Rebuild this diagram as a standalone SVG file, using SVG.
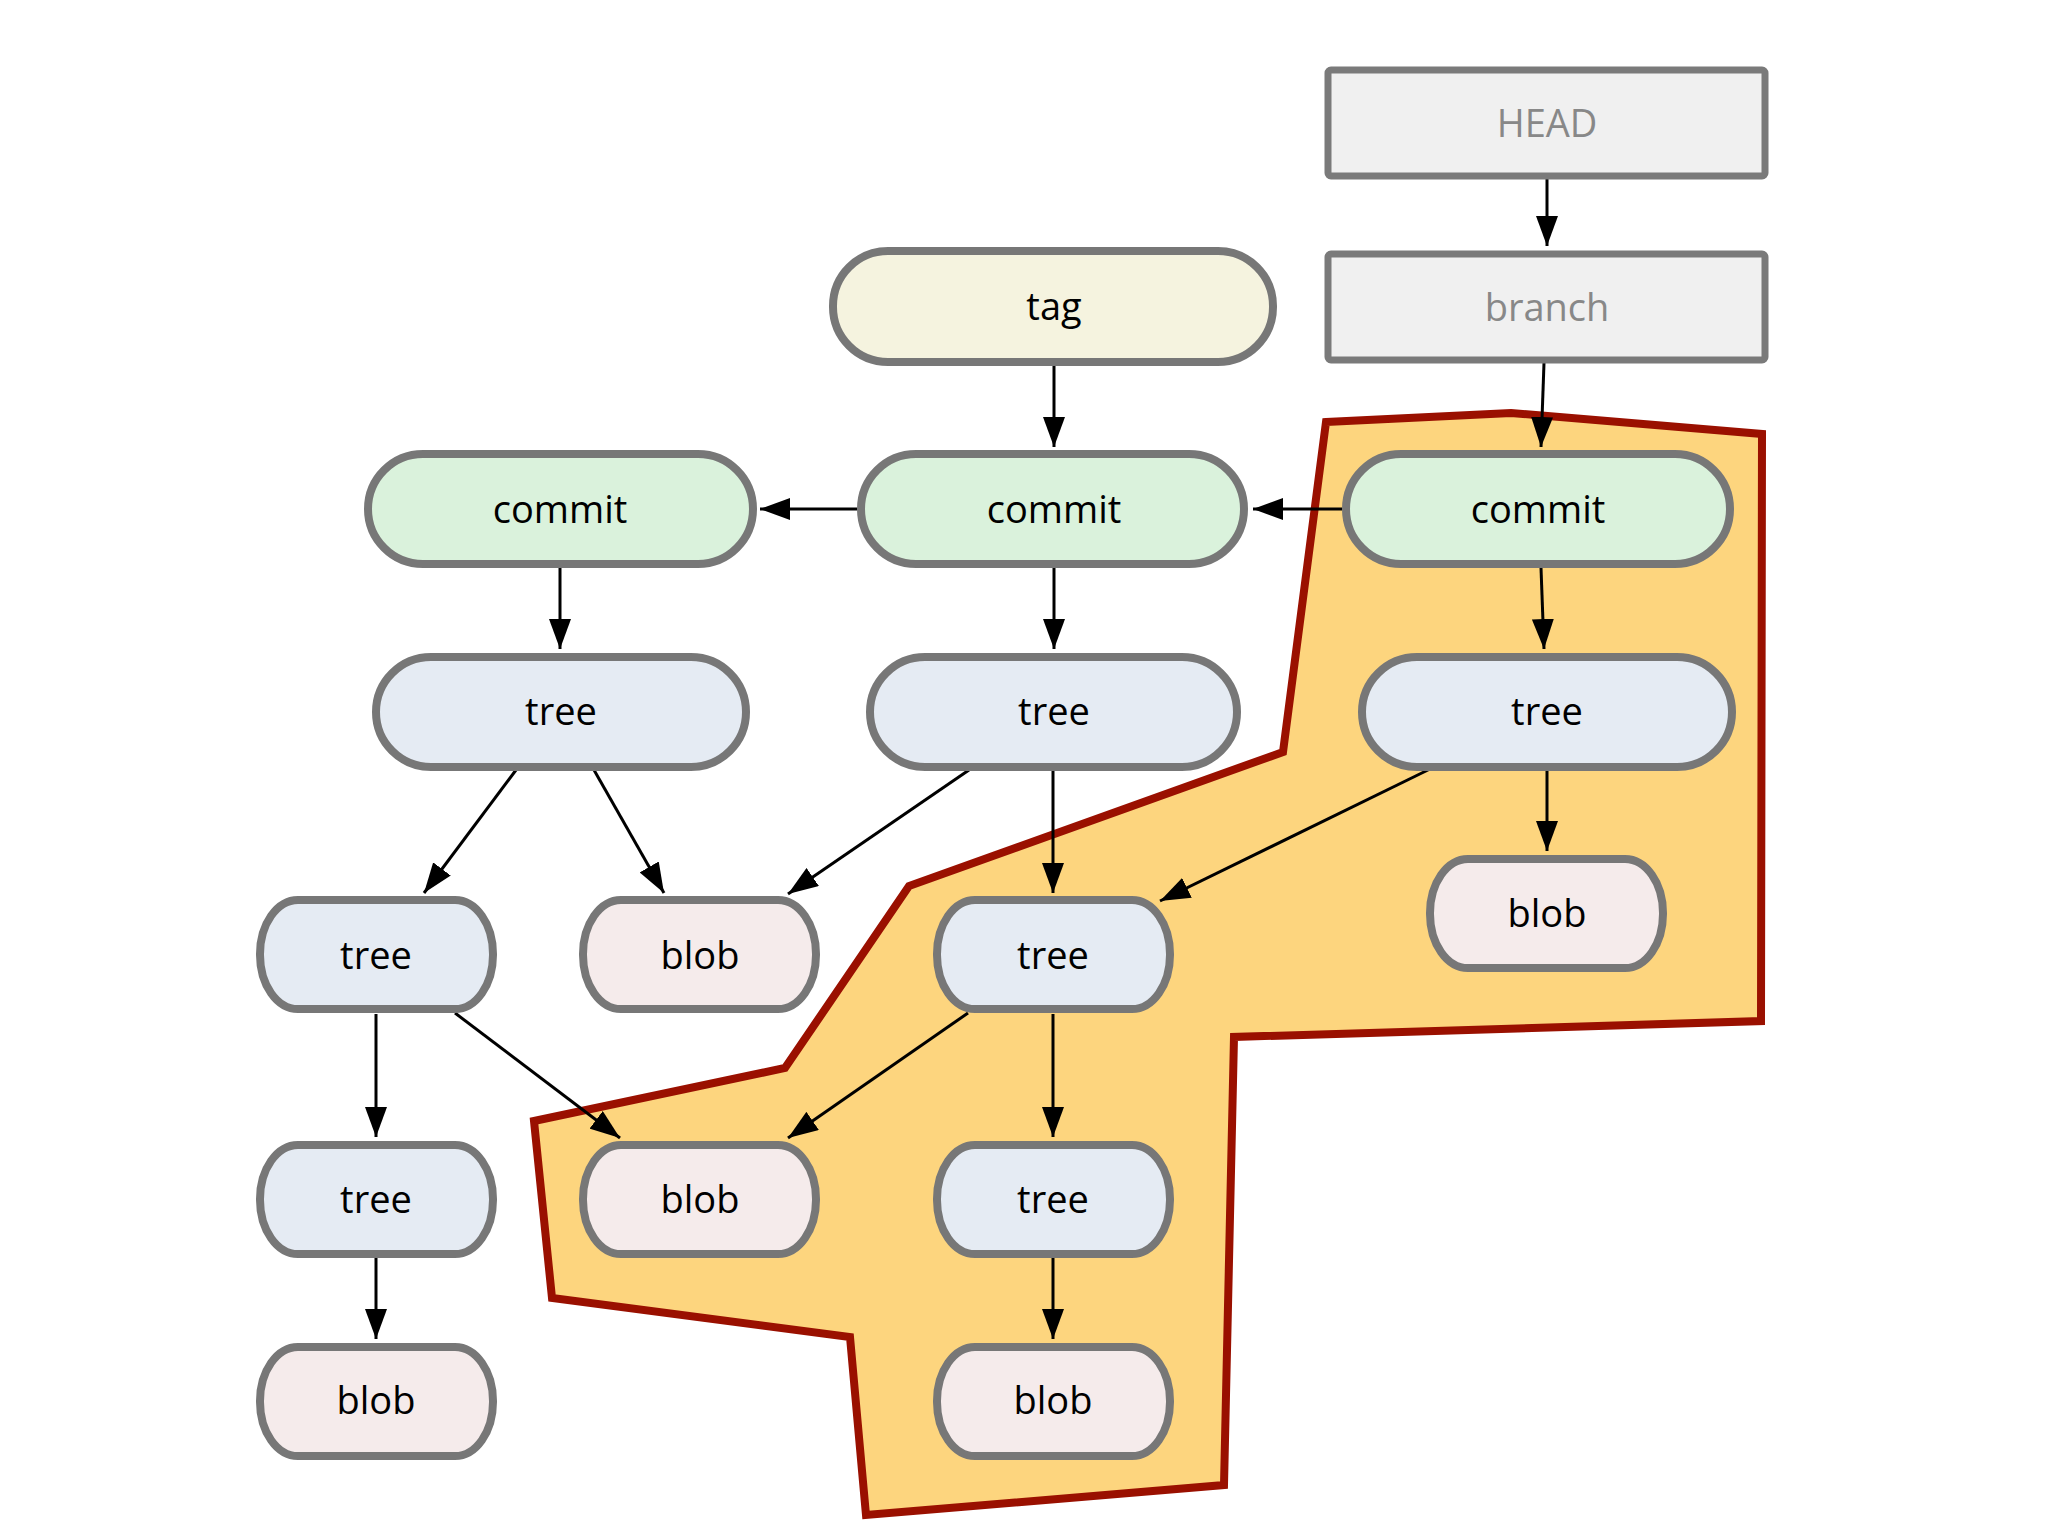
<svg xmlns="http://www.w3.org/2000/svg" width="2048" height="1536" viewBox="0 0 2048 1536">
<style>
.n rect{stroke:#777777;stroke-width:8}
.ref rect{fill:#f0f0f0;stroke:#7a7a7a;stroke-width:7}
.commit rect{fill:#daf2dc}
.tag rect{fill:#f5f3df}
.tree rect{fill:#e5ebf3}
.blob rect{fill:#f5ebeb}
text{font-family:"Open Sans","DejaVu Sans",sans-serif;font-size:38px;text-anchor:middle;fill:#000}
.ref text{fill:#888888}
.e line{stroke:#000;stroke-width:3;marker-end:url(#ah)}
</style>
<defs>
<marker id="ah" markerUnits="userSpaceOnUse" markerWidth="30" markerHeight="22" refX="30" refY="11" orient="auto">
<path d="M0,0 L30,11 L0,22 z" fill="#000"/>
</marker>
</defs>
<rect width="2048" height="1536" fill="#ffffff"/>
<polygon id="highlight" points="1326,422 1511,413 1762,434 1761,1021 1234,1037 1224,1485 866,1515 850,1337 552,1298 534,1121 785,1068 909,886 1283,752" fill="#fdd57e" stroke="#9a1000" stroke-width="8" stroke-linejoin="miter"/>
<g id="connectors" class="e">
<line x1="1547" y1="179" x2="1547" y2="246"/>
<line x1="1544" y1="363" x2="1541" y2="447"/>
<line x1="1054" y1="366" x2="1054" y2="447"/>
<line x1="1342" y1="509" x2="1253" y2="509"/>
<line x1="857" y1="509" x2="760" y2="509"/>
<line x1="560" y1="568" x2="560" y2="649"/>
<line x1="1054" y1="568" x2="1054" y2="649"/>
<line x1="1541" y1="568" x2="1544" y2="649"/>
<line x1="516" y1="770" x2="424" y2="893"/>
<line x1="594" y1="770" x2="664" y2="893"/>
<line x1="969" y1="770" x2="788" y2="894"/>
<line x1="1053" y1="770" x2="1053" y2="893"/>
<line x1="1430" y1="769" x2="1160" y2="901"/>
<line x1="1547" y1="770" x2="1547" y2="851"/>
<line x1="376" y1="1014" x2="376" y2="1137"/>
<line x1="455" y1="1013" x2="620" y2="1138"/>
<line x1="968" y1="1013" x2="788" y2="1138"/>
<line x1="1053" y1="1014" x2="1053" y2="1137"/>
<line x1="376" y1="1258" x2="376" y2="1339"/>
<line x1="1053" y1="1258" x2="1053" y2="1339"/>
</g>
<g id="head" class="ref"><rect x="1328" y="70" width="437" height="106" rx="3"/><text x="1547" y="137">HEAD</text></g>
<g id="branch" class="ref"><rect x="1328" y="254" width="437" height="106" rx="3"/><text x="1547" y="321">branch</text></g>
<g id="tag" class="n tag"><rect x="833" y="251" width="440" height="111" rx="55" ry="55"/><text x="1054" y="320">tag</text></g>
<g id="commit1" class="n commit"><rect x="368" y="454" width="385" height="110" rx="55" ry="55"/><text x="560" y="523">commit</text></g>
<g id="commit2" class="n commit"><rect x="861" y="454" width="383" height="110" rx="55" ry="55"/><text x="1054" y="523">commit</text></g>
<g id="commit3" class="n commit"><rect x="1346" y="454" width="384" height="110" rx="55" ry="55"/><text x="1538" y="523">commit</text></g>
<g id="tree1" class="n tree"><rect x="376" y="657" width="370" height="110" rx="55" ry="55"/><text x="561" y="725">tree</text></g>
<g id="tree2" class="n tree"><rect x="870" y="657" width="367" height="110" rx="55" ry="55"/><text x="1054" y="725">tree</text></g>
<g id="tree3" class="n tree"><rect x="1362" y="657" width="370" height="110" rx="55" ry="55"/><text x="1547" y="725">tree</text></g>
<g id="blob-r" class="n blob"><rect x="1430" y="859" width="233" height="109" rx="38" ry="54"/><text x="1547" y="927">blob</text></g>
<g id="tree4" class="n tree"><rect x="260" y="900" width="233" height="109" rx="38" ry="54"/><text x="376" y="969">tree</text></g>
<g id="blob1" class="n blob"><rect x="583" y="900" width="233" height="109" rx="38" ry="54"/><text x="700" y="969">blob</text></g>
<g id="tree5" class="n tree"><rect x="937" y="900" width="233" height="109" rx="38" ry="54"/><text x="1053" y="969">tree</text></g>
<g id="tree6" class="n tree"><rect x="260" y="1145" width="233" height="109" rx="38" ry="54"/><text x="376" y="1213">tree</text></g>
<g id="blob2" class="n blob"><rect x="583" y="1145" width="233" height="109" rx="38" ry="54"/><text x="700" y="1213">blob</text></g>
<g id="tree7" class="n tree"><rect x="937" y="1145" width="233" height="109" rx="38" ry="54"/><text x="1053" y="1213">tree</text></g>
<g id="blob3" class="n blob"><rect x="260" y="1347" width="233" height="109" rx="38" ry="54"/><text x="376" y="1414">blob</text></g>
<g id="blob4" class="n blob"><rect x="937" y="1347" width="233" height="109" rx="38" ry="54"/><text x="1053" y="1414">blob</text></g>
</svg>
